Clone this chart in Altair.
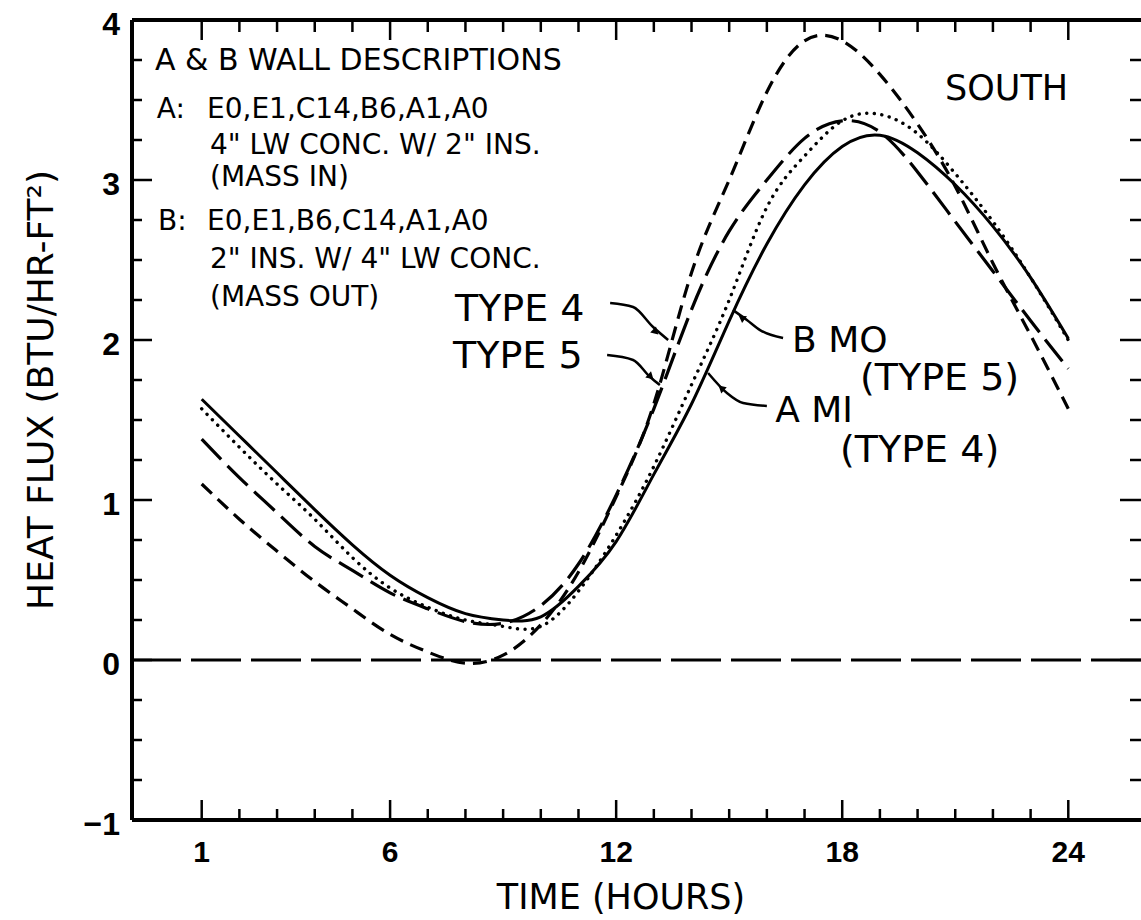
import altair as alt
import pandas as pd

# ---------------- data ----------------
hours = list(range(1, 25))
type4_short = [1.10, 0.88, 0.68, 0.49, 0.32, 0.16, 0.05, -0.02, 0.03, 0.22, 0.55, 1.02,
               1.60, 2.42, 3.00, 3.55, 3.87, 3.87, 3.66, 3.35, 2.96, 2.48, 2.03, 1.57]
type5_long = [1.38, 1.14, 0.92, 0.71, 0.56, 0.42, 0.32, 0.24, 0.23, 0.34, 0.60, 1.03,
              1.57, 2.19, 2.68, 3.00, 3.26, 3.37, 3.30, 3.05, 2.74, 2.43, 2.12, 1.82]
b_mo_dotted = [1.57, 1.33, 1.10, 0.88, 0.64, 0.45, 0.33, 0.25, 0.21, 0.21, 0.43, 0.78,
               1.21, 1.72, 2.25, 2.83, 3.15, 3.37, 3.41, 3.29, 3.04, 2.74, 2.39, 2.00]
a_mi_solid = [1.63, 1.40, 1.17, 0.94, 0.72, 0.53, 0.39, 0.29, 0.25, 0.27, 0.46, 0.74,
              1.16, 1.60, 2.12, 2.60, 2.97, 3.21, 3.28, 3.17, 2.97, 2.71, 2.39, 2.01]

zero_line = [0]

x_label_hours = [1, 6, 12, 18, 24]
y_label_values = [-1, 0, 1, 2, 3, 4]
x_major_ticks = [1, 6, 12, 18, 24]
x_minor_ticks = [2, 3, 4, 5, 7, 8, 9, 10, 11, 13, 14, 15, 16, 17, 19, 20, 21, 22, 23]
y_major_ticks = [0, 1, 2, 3]
y_minor_ticks = [-0.75, -0.5, -0.25, 0.25, 0.5, 0.75, 1.25, 1.5, 1.75, 2.25, 2.5, 2.75,
                 3.25, 3.5, 3.75]

x_title = ["TIME (HOURS)"]
y_title = ["HEAT FLUX (BTU/HR-FT²)"]

# annotation text (anchored in data coordinates)
head_text = ["A & B WALL DESCRIPTIONS"]
head_hour = [-0.24]
head_flux = [3.69]

desc_text = ["A:", "E0,E1,C14,B6,A1,A0", '4" LW CONC. W/ 2" INS.',
             "(MASS IN)", "B:", "E0,E1,B6,C14,A1,A0", '2" INS. W/ 4" LW CONC.', "(MASS OUT)"]
desc_hour = [-0.19, 1.14, 1.22, 1.22, -0.16, 1.14, 1.22, 1.22]
desc_flux = [3.39, 3.39, 3.16, 2.96, 2.69, 2.69, 2.45, 2.21]

type_text = ["TYPE 4", "TYPE 5", "(TYPE 5)", "(TYPE 4)"]
type_hour = [7.72, 7.67, 18.47, 17.94]
type_flux = [2.12, 1.825, 1.69, 1.24]

wall_text = ["B MO", "A MI"]
wall_hour = [16.67, 16.22]
wall_flux = [1.925, 1.49]

south_text = ["SOUTH"]
south_hour = [20.73]
south_flux = [3.50]

leader_name = ["TYPE 4"] * 4 + ["TYPE 5"] * 4 + ["B MO"] * 4 + ["A MI"] * 4
leader_hour = [11.84, 12.45, 12.98, 13.38,
               11.76, 12.45, 12.90, 13.16,
               16.43, 15.82, 15.47, 15.10,
               16.00, 15.37, 14.94, 14.44]
leader_flux = [2.231, 2.206, 2.081, 2.000,
               1.906, 1.875, 1.769, 1.719,
               2.012, 2.062, 2.125, 2.187,
               1.588, 1.606, 1.669, 1.794]

arrow_name = ["TYPE 4", "TYPE 5", "B MO", "A MI"]
arrow_hour = [13.05, 12.92, 15.33, 14.79]
arrow_flux = [2.05, 1.77, 2.14, 1.70]
arrow_angle = [44, 43, 216, 221]

# ---------------- tables ----------------
series_names = ["TYPE 4", "TYPE 5", "B MO", "A MI"]
series_values = [type4_short, type5_long, b_mo_dotted, a_mi_solid]
curves = pd.DataFrame(
    [{"hour": h, "flux": v, "series": n}
     for n, vals in zip(series_names, series_values) for h, v in zip(hours, vals)]
)
zero_df = pd.DataFrame({"flux": zero_line})
xmaj = pd.DataFrame({"t": x_major_ticks})
xmin = pd.DataFrame({"t": x_minor_ticks})
ymaj = pd.DataFrame({"t": y_major_ticks})
ymin = pd.DataFrame({"t": y_minor_ticks})
xlab = pd.DataFrame({"t": x_label_hours})
ylab = pd.DataFrame({"t": y_label_values})
xtit = pd.DataFrame({"text": x_title})
ytit = pd.DataFrame({"text": y_title})
head_df = pd.DataFrame({"text": head_text, "hour": head_hour, "flux": head_flux})
desc_df = pd.DataFrame({"text": desc_text, "hour": desc_hour, "flux": desc_flux})
type_df = pd.DataFrame({"text": type_text, "hour": type_hour, "flux": type_flux})
wall_df = pd.DataFrame({"text": wall_text, "hour": wall_hour, "flux": wall_flux})
south_df = pd.DataFrame({"text": south_text, "hour": south_hour, "flux": south_flux})
leader_df = pd.DataFrame({"name": leader_name, "hour": leader_hour, "flux": leader_flux})
arrow_df = pd.DataFrame({"name": arrow_name, "hour": arrow_hour, "flux": arrow_flux,
                         "angle": arrow_angle})
one = pd.DataFrame({"k": [0]})

W, H = 1009, 800
XS = alt.Scale(domain=[-0.85, 25.93], nice=False, zero=False)
YS = alt.Scale(domain=[-1, 4], nice=False, zero=False)
FONT = "DejaVu Sans"
NUMFONT = "Liberation Sans"

X = lambda f: alt.X(f, scale=XS, axis=None)
Y = lambda f: alt.Y(f, scale=YS, axis=None)


def curve(name, **mark):
    return alt.Chart(curves).transform_filter(alt.datum.series == name).mark_line(
        interpolate="natural", color="black", **mark
    ).encode(x=X("hour:Q"), y=Y("flux:Q"))


solid = curve("A MI", strokeWidth=3)
dotted = curve("B MO", strokeWidth=3.4, strokeDash=[0.1, 7.5], strokeCap="round")
longd = curve("TYPE 5", strokeWidth=3.2, strokeDash=[28, 9])
shortd = curve("TYPE 4", strokeWidth=3.2, strokeDash=[14, 8])

zero = alt.Chart(zero_df).mark_rule(color="black", strokeWidth=3, strokeDash=[50, 10]).encode(
    y=Y("flux:Q")
)


def xticks(df, y0, y1):
    return alt.Chart(df).mark_rule(color="black", strokeWidth=2.5).encode(
        x=X("t:Q"), y=alt.value(y0), y2=alt.value(y1)
    )


def yticks(df, x0, x1):
    return alt.Chart(df).mark_rule(color="black", strokeWidth=2.5).encode(
        y=Y("t:Q"), x=alt.value(x0), x2=alt.value(x1)
    )


ticks = [
    xticks(xmaj, H, H - 20), xticks(xmin, H, H - 11),
    xticks(xmaj, 0, 20), xticks(xmin, 0, 12),
    yticks(ymaj, 0, 20), yticks(ymin, 0, 10),
    yticks(ymaj, W, W - 21), yticks(ymin, W, W - 11),
]

frame = [
    alt.Chart(one).mark_rule(color="black", strokeWidth=4).encode(
        x=alt.value(0), y=alt.value(0), y2=alt.value(H)),
    alt.Chart(one).mark_rule(color="black", strokeWidth=4).encode(
        y=alt.value(0), x=alt.value(0), x2=alt.value(W)),
    alt.Chart(one).mark_rule(color="black", strokeWidth=4).encode(
        y=alt.value(H), x=alt.value(0), x2=alt.value(W)),
]

# axis labels and titles
x_labels = alt.Chart(xlab).mark_text(
    align="center", baseline="alphabetic", font=NUMFONT, fontSize=30, fontWeight="bold",
    color="black"
).encode(x=X("t:Q"), y=alt.value(H + 42), text=alt.Text("t:Q", format="d"))

y_labels = alt.Chart(ylab).mark_text(
    align="right", baseline="alphabetic", font=NUMFONT, fontSize=32, fontWeight="bold",
    color="black", dy=15
).encode(y=Y("t:Q"), x=alt.value(-12), text=alt.Text("t:Q", format="d"))

x_tit = alt.Chart(xtit).mark_text(
    align="center", baseline="alphabetic", font=FONT, fontSize=35, color="black"
).encode(x=alt.value(489), y=alt.value(H + 89), text="text:N")

y_tit = alt.Chart(ytit).mark_text(
    align="center", baseline="alphabetic", font=FONT, fontSize=36, color="black", angle=270
).encode(x=alt.value(-79), y=alt.value(370), text="text:N")

leaders = alt.Chart(leader_df).mark_line(interpolate="monotone", color="black",
                                         strokeWidth=2.5).encode(
    x=X("hour:Q"), y=Y("flux:Q"), detail="name:N",
)

arrows = alt.Chart(arrow_df).mark_point(shape="triangle-right", filled=True, color="black",
                                        size=70, opacity=1).encode(
    x=X("hour:Q"), y=Y("flux:Q"), angle=alt.Angle("angle:Q", scale=None),
)


def texts(df, size):
    return alt.Chart(df).mark_text(align="left", baseline="alphabetic", font=FONT,
                                   fontSize=size, color="black").encode(
        x=X("hour:Q"), y=Y("flux:Q"), text="text:N",
    )


chart = alt.layer(
    zero, solid, dotted, longd, shortd, leaders, arrows, *ticks, *frame,
    x_labels, y_labels, x_tit, y_tit,
    texts(head_df, 30), texts(desc_df, 28), texts(type_df, 38), texts(wall_df, 36),
    texts(south_df, 35),
).properties(
    width=W, height=H,
    autosize=alt.AutoSizeParams(type="none"),
    padding={"left": 132, "top": 20, "right": 0, "bottom": 98},
    background="white",
).configure_view(stroke=None)

chart.save("out.html", embed_options={"renderer": "svg", "actions": False})
